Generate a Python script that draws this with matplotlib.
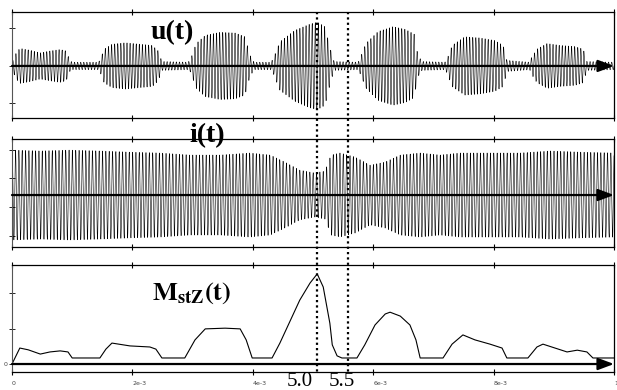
import numpy as np
import matplotlib
matplotlib.use("Agg")
import matplotlib.pyplot as plt
from matplotlib import transforms

plt.rcParams["mathtext.fontset"] = "stix"

# ---------------- data ----------------
# time axis in ms (converted to s for plotting)
u_env_t = [0.00, 0.07, 0.13, 0.30, 0.47, 0.63, 0.80, 0.90, 0.96, 1.00, 1.43,
           1.46, 1.53, 1.66, 1.88, 2.13, 2.33, 2.43, 2.49, 2.92,
           2.96, 3.06, 3.21, 3.46, 3.71, 3.87, 3.95, 4.02, 4.30,
           4.34, 4.45, 4.70, 4.95, 5.07, 5.20, 5.28, 5.35, 5.75,
           5.78, 5.88, 6.08, 6.33, 6.53, 6.68, 6.74, 6.81, 7.19,
           7.23, 7.31, 7.52, 7.77, 8.02, 8.16, 8.22, 8.60,
           8.62, 8.72, 8.89, 9.10, 9.35, 9.49, 9.55, 10.0]
u_env_a = [0.10, 0.35, 0.47, 0.42, 0.35, 0.40, 0.44, 0.40, 0.15, 0.10, 0.10,
           0.15, 0.45, 0.58, 0.62, 0.58, 0.55, 0.40, 0.12, 0.10,
           0.15, 0.60, 0.82, 0.90, 0.88, 0.78, 0.30, 0.10, 0.10,
           0.20, 0.65, 0.95, 1.12, 1.17, 1.05, 0.50, 0.12, 0.10,
           0.20, 0.60, 0.92, 1.05, 0.98, 0.85, 0.30, 0.12, 0.10,
           0.20, 0.55, 0.78, 0.75, 0.68, 0.55, 0.15, 0.10,
           0.20, 0.45, 0.60, 0.55, 0.52, 0.45, 0.12, 0.10]

i_env_t = [0.00, 0.47, 0.96, 1.46, 1.96, 2.46, 2.96, 3.46, 3.95, 4.29, 4.53,
           4.78, 5.03, 5.20, 5.30, 5.45, 5.70, 5.95, 6.20, 6.45, 6.78,
           7.11, 7.44, 7.94, 8.44, 8.94, 9.44, 10.0]
i_env_a = [1.55, 1.52, 1.55, 1.52, 1.48, 1.45, 1.38, 1.38, 1.45, 1.38, 1.14,
           0.86, 0.76, 0.83, 1.38, 1.45, 1.31, 1.03, 1.14, 1.38, 1.45,
           1.38, 1.45, 1.45, 1.45, 1.52, 1.48, 1.45]

m_t = [0.00, 0.13, 0.27, 0.47, 0.63, 0.80, 0.93, 1.00, 1.46, 1.56, 1.66,
       1.96, 2.29, 2.39, 2.49, 2.87, 3.04, 3.21, 3.54, 3.79, 3.89, 3.99,
       4.32, 4.45, 4.78, 4.95, 5.07, 5.17, 5.28, 5.32, 5.40, 5.48, 5.73,
       5.86, 6.03, 6.20, 6.28, 6.45, 6.61, 6.71, 6.78, 7.16, 7.31, 7.49,
       7.69, 7.94, 8.14, 8.22, 8.57, 8.72, 8.82, 9.02, 9.22, 9.39, 9.55,
       9.65, 10.0]
m_v = [0.00, 0.45, 0.40, 0.28, 0.34, 0.37, 0.34, 0.17, 0.17, 0.42, 0.59,
       0.51, 0.48, 0.42, 0.17, 0.17, 0.68, 0.99, 1.01, 0.99, 0.68, 0.17,
       0.17, 0.59, 1.80, 2.28, 2.54, 2.17, 1.15, 0.54, 0.23, 0.17, 0.17,
       0.54, 1.10, 1.41, 1.46, 1.35, 1.10, 0.68, 0.17, 0.17, 0.56, 0.82,
       0.68, 0.56, 0.45, 0.17, 0.17, 0.48, 0.56, 0.45, 0.34, 0.39, 0.34,
       0.17, 0.17]

u_cycles = 195          # carrier cycles over the window
i_cycles = 180
markers_ms = [5.06, 5.58]
marker_labels = ["5.0", "5.5"]
marker_label_pos_ms = [4.78, 5.48]   # centres of the "5.0" / "5.5" labels
xtick_vals = [0, 2e-3, 4e-3, 6e-3, 8e-3, 1e-2]
xtick_labels = ["0", "2e-3", "4e-3", "6e-3", "8e-3", "1"]

# ---------------- figure ----------------
W, H = 617, 390
fig = plt.figure(figsize=(W / 100, H / 100), dpi=100)

def fx(px):
    return px / W

def fy(py):
    return 1 - py / H

left, right = 12, 614
ax1 = fig.add_axes([fx(left), fy(118), fx(right - left), (118 - 12) / H])
ax2 = fig.add_axes([fx(left), fy(247), fx(right - left), (247 - 139) / H])
ax3 = fig.add_axes([fx(left), fy(372), fx(right - left), (372 - 265) / H])

T = 0.01
t = np.linspace(0, T, 14000)
u_env = np.interp(t, np.array(u_env_t) * 1e-3, u_env_a)
i_env = np.interp(t, np.array(i_env_t) * 1e-3, i_env_a)
u = u_env * np.sin(2 * np.pi * u_cycles * t / T)
i = i_env * np.sin(2 * np.pi * i_cycles * t / T + 1.2)

ax1.plot(t, u, color="black", lw=0.4)
ax2.plot(t, i, color="black", lw=0.4)
ax3.plot(np.array(m_t) * 1e-3, m_v, color="black", lw=0.8)

ax1.set_ylim(-1.39, 1.44)
ax2.set_ylim(-1.79, 1.93)
ax3.set_ylim(-0.225, 2.79)
ax1.set_yticks([-1, 0, 1])
ax2.set_yticks([-1.41, -0.41, 0.59, 1.55])
ax3.set_yticks([0, 1, 2])

for ax in (ax1, ax2, ax3):
    ax.set_xlim(0, T)
    ax.set_xticks(xtick_vals)
    ax.tick_params(axis="x", direction="inout", length=5, width=0.8,
                   top=True, bottom=True, labelbottom=False)
    ax.tick_params(axis="y", direction="inout", length=4, width=0.6,
                   left=True, labelleft=False)
    for s in ("top", "bottom", "right"):
        ax.spines[s].set_linewidth(0.9)
        ax.spines[s].set_color("black")
    ax.spines["left"].set_linewidth(0.8)
    ax.spines["left"].set_color("#555555")
    ax.patch.set_alpha(0)
    ax.annotate("", xy=(T, 0), xytext=(0, 0), xycoords="data",
                arrowprops=dict(arrowstyle="-|>,head_length=0.8,head_width=0.3",
                                mutation_scale=12, lw=1.6, color="black",
                                shrinkA=0, shrinkB=0),
                annotation_clip=False)

ax3.tick_params(axis="x", labelbottom=True, labelsize=4.5, pad=4,
                labelcolor="#444444")
ax3.set_xticklabels(xtick_labels)
for lab in ax3.get_xticklabels():
    lab.set_horizontalalignment("left")
ax3.tick_params(axis="y", labelleft=True, labelsize=4.5, pad=1,
                labelcolor="#444444")
ax3.set_yticklabels(["0", "", ""])

serif = "Liberation Serif"

# dotted marker lines across all panels
trans = transforms.blended_transform_factory(ax3.transData, fig.transFigure)
for m, lab, lp in zip(markers_ms, marker_labels, marker_label_pos_ms):
    fig.add_artist(plt.Line2D([m * 1e-3, m * 1e-3], [fy(12), fy(372)],
                              transform=trans, color="black", lw=1.6,
                              linestyle=(0, (1, 1.4))))
    fig.text(lp * 1e-3, fy(386), lab, transform=trans, ha="center",
             va="baseline", fontsize=15, family=serif)

# panel titles
fig.text(fx(172), fy(33), "u(t)", ha="center", va="center", fontsize=20,
         fontweight="bold", family=serif)
fig.text(fx(207), fy(136), "i(t)", ha="center", va="center", fontsize=20,
         fontweight="bold", family=serif)
fig.text(fx(192), fy(293), r"$\mathbf{M_{stZ}(t)}$", ha="center", va="center",
         fontsize=19)

fig.savefig("out.png", dpi=100)
